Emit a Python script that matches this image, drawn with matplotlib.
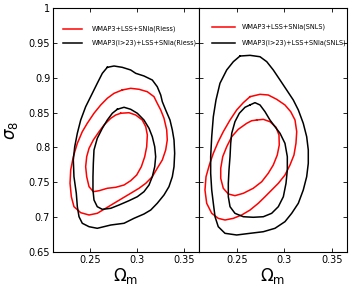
import matplotlib
matplotlib.use("Agg")
import matplotlib.pyplot as plt

# contour outlines: (Omega_m, sigma_8)
riess_red_outer_x = [0.2840, 0.2930, 0.3019, 0.3108, 0.3179, 0.3214, 0.3251, 0.3286, 0.3315, 0.3321, 0.3304,
                     0.3268, 0.3214, 0.3161, 0.3091, 0.3019, 0.2930, 0.2840, 0.2752, 0.2663, 0.2573, 0.2485,
                     0.2396, 0.2324, 0.2296, 0.2282, 0.2289, 0.2317, 0.2360, 0.2413, 0.2466, 0.2538, 0.2610,
                     0.2680, 0.2752]
riess_red_outer_y = [0.8824, 0.8848, 0.8834, 0.8799, 0.8728, 0.8633, 0.8537, 0.8418, 0.8250, 0.8107, 0.7963,
                     0.7820, 0.7701, 0.7580, 0.7485, 0.7414, 0.7342, 0.7270, 0.7199, 0.7127, 0.7055, 0.7031,
                     0.7064, 0.7150, 0.7293, 0.7485, 0.7676, 0.7867, 0.8059, 0.8226, 0.8346, 0.8490, 0.8609,
                     0.8705, 0.8776]
riess_red_inner_x = [0.2823, 0.2912, 0.2984, 0.3054, 0.3091, 0.3108, 0.3101, 0.3080, 0.3044, 0.2994, 0.2930,
                     0.2859, 0.2770, 0.2680, 0.2592, 0.2531, 0.2485, 0.2460, 0.2449, 0.2460, 0.2485, 0.2531,
                     0.2592, 0.2645, 0.2717, 0.2770]
riess_red_inner_y = [0.8490, 0.8498, 0.8465, 0.8393, 0.8297, 0.8178, 0.8010, 0.7867, 0.7724, 0.7604, 0.7523,
                     0.7461, 0.7428, 0.7414, 0.7379, 0.7365, 0.7437, 0.7580, 0.7724, 0.7867, 0.7987, 0.8107,
                     0.8226, 0.8322, 0.8418, 0.8465]
riess_black_outer_x = [0.2680, 0.2752, 0.2840, 0.2930, 0.2984, 0.3072, 0.3161, 0.3214, 0.3251, 0.3268, 0.3304,
                       0.3350, 0.3375, 0.3393, 0.3400, 0.3393, 0.3375, 0.3339, 0.3286, 0.3214, 0.3144, 0.3072,
                       0.2965, 0.2859, 0.2717, 0.2573, 0.2485, 0.2413, 0.2378, 0.2360, 0.2349, 0.2324, 0.2317,
                       0.2332, 0.2360, 0.2396, 0.2449, 0.2520, 0.2573, 0.2627]
riess_black_outer_y = [0.9149, 0.9168, 0.9149, 0.9111, 0.9063, 0.9025, 0.8967, 0.8871, 0.8752, 0.8656, 0.8537,
                       0.8393, 0.8250, 0.8107, 0.7916, 0.7724, 0.7580, 0.7437, 0.7318, 0.7199, 0.7102, 0.7045,
                       0.6983, 0.6912, 0.6887, 0.6840, 0.6863, 0.6912, 0.7006, 0.7150, 0.7342, 0.7580, 0.7820,
                       0.8010, 0.8203, 0.8393, 0.8584, 0.8776, 0.8920, 0.9063]
riess_black_inner_x = [0.2787, 0.2859, 0.2930, 0.3001, 0.3072, 0.3126, 0.3161, 0.3187, 0.3197, 0.3187, 0.3161,
                       0.3126, 0.3072, 0.3001, 0.2912, 0.2805, 0.2717, 0.2627, 0.2573, 0.2538, 0.2527, 0.2527,
                       0.2531, 0.2538, 0.2573, 0.2627, 0.2680, 0.2734]
riess_black_inner_y = [0.8547, 0.8576, 0.8547, 0.8490, 0.8393, 0.8274, 0.8154, 0.8010, 0.7867, 0.7724, 0.7580,
                       0.7461, 0.7365, 0.7293, 0.7236, 0.7174, 0.7127, 0.7112, 0.7150, 0.7246, 0.7389, 0.7580,
                       0.7772, 0.7963, 0.8131, 0.8274, 0.8393, 0.8490]

snls_red_outer_x = [0.2638, 0.2743, 0.2830, 0.2919, 0.3006, 0.3067, 0.3112, 0.3130, 0.3122, 0.3101, 0.3059,
                    0.3006, 0.2936, 0.2866, 0.2796, 0.2725, 0.2638, 0.2550, 0.2462, 0.2374, 0.2303, 0.2234,
                    0.2181, 0.2163, 0.2174, 0.2209, 0.2251, 0.2303, 0.2356, 0.2427, 0.2497, 0.2567]
snls_red_outer_y = [0.8728, 0.8762, 0.8752, 0.8690, 0.8609, 0.8512, 0.8393, 0.8226, 0.8059, 0.7891, 0.7748,
                    0.7604, 0.7485, 0.7389, 0.7293, 0.7199, 0.7102, 0.7031, 0.6983, 0.6959, 0.6983, 0.7055,
                    0.7199, 0.7389, 0.7580, 0.7748, 0.7916, 0.8082, 0.8226, 0.8393, 0.8537, 0.8642]
snls_red_inner_x = [0.2708, 0.2778, 0.2848, 0.2912, 0.2943, 0.2946, 0.2925, 0.2883, 0.2830, 0.2761, 0.2672,
                    0.2567, 0.2479, 0.2409, 0.2356, 0.2329, 0.2329, 0.2350, 0.2392, 0.2445, 0.2514, 0.2603,
                    0.2655]
snls_red_inner_y = [0.8393, 0.8403, 0.8369, 0.8289, 0.8178, 0.8035, 0.7891, 0.7748, 0.7629, 0.7508, 0.7414,
                    0.7342, 0.7308, 0.7332, 0.7414, 0.7557, 0.7701, 0.7867, 0.8010, 0.8154, 0.8260, 0.8346,
                    0.8383]
snls_black_outer_x = [0.2532, 0.2638, 0.2743, 0.2814, 0.2883, 0.2954, 0.3024, 0.3094, 0.3147, 0.3199, 0.3235,
                      0.3252, 0.3252, 0.3235, 0.3199, 0.3147, 0.3077, 0.3006, 0.2901, 0.2778, 0.2638, 0.2497,
                      0.2374, 0.2303, 0.2269, 0.2251, 0.2234, 0.2223, 0.2223, 0.2234, 0.2251, 0.2279, 0.2321,
                      0.2392, 0.2462]
snls_black_outer_y = [0.9311, 0.9321, 0.9301, 0.9230, 0.9111, 0.8967, 0.8824, 0.8680, 0.8537, 0.8346, 0.8154,
                      0.7963, 0.7772, 0.7580, 0.7389, 0.7199, 0.7055, 0.6935, 0.6840, 0.6791, 0.6768, 0.6744,
                      0.6768, 0.6863, 0.7006, 0.7199, 0.7389, 0.7629, 0.7867, 0.8154, 0.8441, 0.8680, 0.8920,
                      0.9111, 0.9230]
snls_black_inner_x = [0.2638, 0.2690, 0.2743, 0.2796, 0.2848, 0.2901, 0.2954, 0.3006, 0.3031, 0.3031, 0.3017,
                      0.2989, 0.2936, 0.2866, 0.2778, 0.2672, 0.2567, 0.2479, 0.2427, 0.2409, 0.2409, 0.2416,
                      0.2427, 0.2434, 0.2445, 0.2479, 0.2525, 0.2585]
snls_black_inner_y = [0.8610, 0.8642, 0.8609, 0.8512, 0.8393, 0.8297, 0.8203, 0.8059, 0.7867, 0.7676, 0.7485,
                      0.7293, 0.7150, 0.7055, 0.7006, 0.6998, 0.7006, 0.7055, 0.7150, 0.7293, 0.7485, 0.7676,
                      0.7867, 0.8059, 0.8203, 0.8369, 0.8490, 0.8576]

x_ticks = [0.25, 0.3, 0.35]
x_tick_labels = ['0.25', '0.3', '0.35']
y_ticks = [0.65, 0.7, 0.75, 0.8, 0.85, 0.9, 0.95, 1.0]
y_tick_labels = ['0.65', '0.7', '0.75', '0.8', '0.85', '0.9', '0.95', '1']

riess_labels = ['WMAP3+LSS+SNIa(Riess)', 'WMAP3(l>23)+LSS+SNIa(Riess)']
snls_labels = ['WMAP3+LSS+SNIa(SNLS)', 'WMAP3(l>23)+LSS+SNIa(SNLS)']


def closed(xs, ys):
    return list(xs) + [xs[0]], list(ys) + [ys[0]]


def draw_panel(ax, red, black, labels, leg):
    for xs, ys in red:
        cx, cy = closed(xs, ys)
        ax.plot(cx, cy, color='#ff0000', lw=1.1, solid_joinstyle='round')
    for xs, ys in black:
        cx, cy = closed(xs, ys)
        ax.plot(cx, cy, color='black', lw=1.1, solid_joinstyle='round')
    ax.set_xlim(0.21, 0.366)
    ax.set_ylim(0.65, 1.0)
    ax.set_xticks(x_ticks)
    ax.set_xticklabels(x_tick_labels, fontsize=7)
    ax.set_yticks(y_ticks)
    ax.tick_params(direction='in', top=True, right=True, length=3, width=0.6, pad=2)
    ax.set_xlabel(r'$\Omega_{\rm m}$', fontsize=12, labelpad=1)
    for s in ax.spines.values():
        s.set_linewidth(0.8)
    # hand placed legend, in axes fractions
    x0, x1, xt, ys = leg
    for lab, col, yy in zip(labels, ['#ff0000', 'black'], ys):
        ax.plot([x0, x1], [yy, yy], color=col, lw=1.1, transform=ax.transAxes, clip_on=False)
        ax.text(xt, yy, lab, fontsize=4.7, va='center', ha='left', transform=ax.transAxes, clip_on=False)


fig = plt.figure(figsize=(3.52, 2.86), dpi=100)
ax1 = fig.add_axes([53 / 352, 34 / 286, 146 / 352, 244 / 286])
ax2 = fig.add_axes([199 / 352, 34 / 286, 148 / 352, 244 / 286])

draw_panel(ax1,
           [(riess_red_outer_x, riess_red_outer_y), (riess_red_inner_x, riess_red_inner_y)],
           [(riess_black_outer_x, riess_black_outer_y), (riess_black_inner_x, riess_black_inner_y)],
           riess_labels, (0.068, 0.199, 0.267, (0.914, 0.857)))
draw_panel(ax2,
           [(snls_red_outer_x, snls_red_outer_y), (snls_red_inner_x, snls_red_inner_y)],
           [(snls_black_outer_x, snls_black_outer_y), (snls_black_inner_x, snls_black_inner_y)],
           snls_labels, (0.088, 0.243, 0.291, (0.922, 0.857)))

ax1.set_yticklabels(y_tick_labels, fontsize=7)
ax1.set_ylabel(r'$\sigma_8$', fontsize=12, labelpad=6)
ax2.set_yticklabels([])

fig.savefig('out.png', dpi=100)
